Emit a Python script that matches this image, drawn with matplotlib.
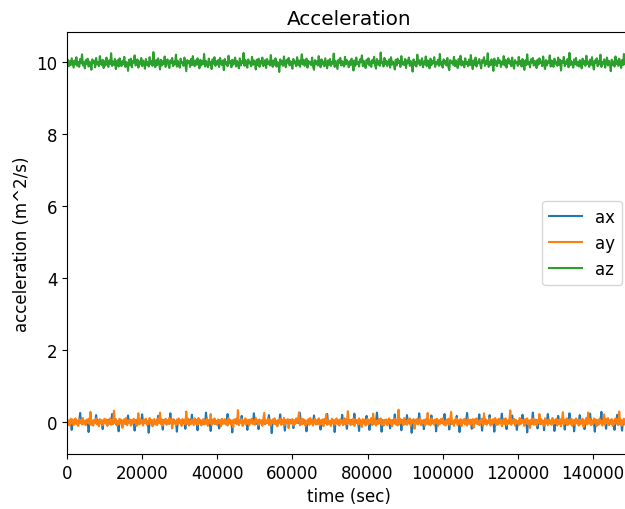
import numpy as np
import matplotlib
matplotlib.use("Agg")
import matplotlib.pyplot as plt

plt.rcParams['font.size'] = 12

# sampling step of the time axis (seconds)
time_step = 250

az = [
    9.95,10.06,9.88,10.02,9.91,10.10,9.97,9.84,10.04,9.93,10.13,9.89,10.00,9.86,10.08,9.96,10.21,9.90,9.99,9.82,
    10.05,9.94,10.09,9.87,10.01,9.92,9.78,10.07,9.98,10.03,9.85,10.11,9.93,10.00,9.88,10.16,9.95,9.91,10.06,9.83,
    10.02,9.90,10.12,9.97,9.86,10.04,9.94,10.24,9.89,10.01,9.92,10.08,9.80,9.99,10.05,9.87,10.10,9.95,9.88,10.03,
    9.93,10.14,9.86,10.00,9.96,9.75,10.06,9.91,10.09,9.85,10.02,9.98,10.18,9.90,9.95,10.07,9.84,10.01,9.93,10.11,
    9.88,10.04,9.97,9.81,10.08,9.92,10.00,9.87,10.13,9.94,10.03,9.89,10.27,9.96,9.85,10.05,9.91,10.10,9.98,9.79,
    10.06,9.90,10.02,9.94,10.15,9.86,9.99,10.07,9.92,9.83,10.04,9.97,10.11,9.88,10.01,9.93,10.20,9.87,10.03,9.95,
    9.84,10.09,9.96,10.00,9.89,10.12,9.93,9.74,10.05,9.98,10.02,9.86,10.08,9.91,10.16,9.95,9.88,10.04,9.92,10.10,
    9.97,9.82,10.06,9.90,10.01,9.94,10.22,9.87,10.03,9.96,9.85,10.09,9.92,10.00,9.80,10.07,9.95,10.13,9.89,10.02,
    9.93,10.05,9.86,10.11,9.98,9.91,10.04,9.77,10.08,9.94,10.00,9.88,10.17,9.96,10.02,9.85,10.06,9.92,9.99,10.12,
    9.87,10.03,9.95,9.82,10.10,9.90,10.01,9.97,10.25,9.89,10.05,9.93,9.84,10.07,9.96,10.00,9.88,10.14,9.92,10.04,
    9.98,9.79,10.06,9.91,10.09,9.86,10.02,9.95,10.12,9.88,9.99,10.05,9.83,10.08,9.94,10.01,9.90,10.19,9.97,9.86,
    10.04,9.92,10.10,9.87,10.00,9.96,9.72,10.07,9.93,10.03,9.89,10.15,9.95,9.85,10.06,9.98,10.11,9.90,10.02,9.94,
    9.81,10.08,9.96,10.01,9.88,10.13,9.92,10.04,9.86,9.99,10.21,9.93,10.06,9.89,9.97,10.09,9.84,10.03,9.95,10.00,
    9.91,10.12,9.87,9.78,10.05,9.94,10.02,9.90,10.16,9.97,9.85,10.07,9.93,10.01,9.88,10.10,9.96,9.82,10.04,9.92,
    10.08,9.89,10.00,9.95,10.23,9.86,10.03,9.92,9.80,10.06,9.97,10.11,9.90,10.02,9.94,9.87,10.14,9.93,10.05,9.98,
    9.85,10.02,9.91,10.09,9.96,9.76,10.04,9.89,10.12,9.94,10.00,9.87,10.07,9.99,10.18,9.88,10.03,9.92,9.83,10.06,
    9.95,10.10,9.90,10.01,9.86,10.05,9.97,10.14,9.91,9.81,10.08,9.93,10.02,9.89,10.26,9.96,10.00,9.87,10.11,9.94,
    10.03,9.88,9.98,10.07,9.84,10.13,9.92,10.01,9.95,9.79,10.06,9.90,10.09,9.97,10.03,9.86,10.16,9.93,10.00,9.91,
    10.08,9.83,10.04,9.96,10.12,9.89,10.02,9.94,9.73,10.07,9.92,10.00,9.87,10.20,9.95,10.05,9.90,9.98,10.10,9.85,
    10.01,9.93,10.15,9.88,10.04,9.97,9.82,10.09,9.91,10.02,9.96,10.13,9.86,10.00,9.94,10.06,9.89,10.22,9.92,9.99,
    9.84,10.07,9.95,10.03,9.90,10.11,9.87,9.77,10.05,9.98,10.01,9.92,10.14,9.88,10.04,9.96,9.83,10.08,9.93,10.17,
    9.90,10.02,9.97,9.85,10.10,9.94,10.00,9.88,10.06,9.91,10.19,9.95,9.80,10.04,9.92,10.12,9.87,10.01,9.96,10.08,
    9.93,9.82,10.05,9.98,10.13,9.89,10.03,9.94,10.24,9.86,10.00,9.91,10.07,9.96,9.75,10.09,9.92,10.02,9.88,10.11,
    9.97,10.04,9.86,10.01,9.93,10.16,9.90,10.06,9.84,9.99,10.10,9.95,10.03,9.88,10.12,9.92,9.81,10.05,9.97,10.00,
    9.89,10.14,9.94,10.02,9.87,10.08,9.96,9.78,10.04,9.91,10.21,9.93,10.00,9.85,10.07,9.98,10.11,9.90,10.03,9.95,
    9.83,10.06,9.92,10.10,9.97,10.01,9.88,10.15,9.94,9.80,10.05,9.90,10.02,9.96,10.18,9.87,10.04,9.93,9.86,10.09,
    9.95,10.00,9.89,10.12,9.92,10.06,9.76,10.03,9.97,10.14,9.88,10.01,9.94,10.08,9.85,10.25,9.91,10.02,9.96,9.84,
    10.07,9.93,10.11,9.90,10.00,9.87,10.05,9.98,9.82,10.09,9.94,10.03,9.89,10.17,9.95,10.01,9.86,10.06,9.92,10.13,
    9.91,9.79,10.04,9.97,10.10,9.88,10.02,9.93,10.20,9.86,10.00,9.95,10.07,9.84,9.99,10.12,9.90,10.03,9.96,9.74,
    10.06,9.92,10.01,9.87,10.15,9.94,10.04,9.89,10.09,9.97,9.83,10.05,9.91,10.22,9.93,10.00,9.88,10.11,9.95,10.02,
]

ax_vals = [
    0.02,-0.03,0.04,-0.01,0.05,-0.22,0.03,-0.04,0.01,0.06,-0.02,0.03,-0.05,0.02,0.25,-0.03,0.04,-0.01,0.02,-0.06,
    0.03,-0.02,0.05,-0.28,0.01,-0.04,0.03,0.02,-0.05,0.04,-0.01,0.19,-0.03,0.05,-0.02,0.01,-0.04,0.03,-0.20,0.02,
    -0.01,0.04,-0.03,0.02,0.06,-0.05,0.03,-0.02,0.22,-0.04,0.01,0.03,-0.06,0.02,-0.01,-0.26,0.05,-0.03,0.04,-0.02,
    0.01,0.03,-0.04,0.05,-0.02,0.18,-0.03,0.02,-0.05,0.04,-0.01,0.03,-0.24,0.02,0.05,-0.03,0.01,-0.04,0.06,-0.02,
    0.21,-0.03,0.04,-0.01,0.02,-0.05,0.03,-0.30,0.01,-0.02,0.05,-0.04,0.03,0.02,-0.01,0.04,-0.06,0.17,-0.02,0.03,
    -0.04,0.01,-0.21,0.05,-0.03,0.02,0.04,-0.01,0.03,-0.05,0.24,-0.02,0.01,-0.04,0.06,-0.03,0.02,-0.27,0.04,-0.01,
    0.03,-0.02,0.05,-0.04,0.01,0.02,-0.19,0.03,-0.05,0.04,-0.01,0.06,-0.03,0.20,-0.02,0.03,-0.04,0.01,0.05,-0.23,
    0.02,-0.03,0.04,-0.01,-0.06,0.03,0.02,-0.04,0.26,-0.02,0.05,-0.03,0.01,-0.25,0.04,-0.02,0.03,-0.05,0.02,0.01,
    -0.03,0.04,-0.18,0.02,-0.01,0.05,-0.04,0.03,0.02,-0.06,0.01,0.22,-0.03,0.04,-0.02,0.03,-0.29,0.05,-0.01,0.02,
    -0.04,0.03,0.01,-0.02,0.05,-0.03,0.17,-0.05,0.02,0.04,-0.01,0.03,-0.22,0.01,-0.04,0.06,-0.02,0.03,-0.03,0.24,
    -0.02,0.04,-0.05,0.01,-0.20,0.03,-0.03,0.02,0.05,-0.01,0.04,-0.06,0.02,-0.02,0.03,0.19,-0.04,0.01,-0.31,0.05,
    -0.03,0.02,0.04,-0.01,0.03,-0.05,0.02,0.21,-0.02,0.05,-0.04,0.01,-0.24,0.03,-0.01,0.04,-0.03,0.02,0.06,-0.02,
    0.01,-0.17,0.03,-0.04,0.05,-0.02,0.02,-0.03,0.25,-0.01,0.04,-0.05,0.03,0.01,-0.02,-0.26,0.04,-0.03,0.02,0.05,
    -0.04,0.03,-0.01,0.18,-0.02,0.04,-0.06,0.02,-0.03,0.01,-0.21,0.05,-0.02,0.03,0.04,-0.01,-0.04,0.22,-0.03,0.02,
    0.03,-0.05,0.01,-0.02,0.04,-0.28,0.03,-0.01,0.05,-0.03,0.02,0.04,-0.04,0.20,-0.02,0.01,-0.05,0.03,-0.19,0.02,
    -0.01,0.04,-0.03,0.06,-0.02,0.01,0.23,-0.04,0.03,-0.01,0.02,-0.25,0.05,-0.03,0.04,-0.02,0.01,-0.04,0.03,0.17,
    -0.02,0.05,-0.22,0.02,-0.03,0.04,-0.01,0.03,-0.05,0.01,0.26,-0.02,0.04,-0.03,0.02,-0.27,0.05,-0.01,0.03,-0.04,
    0.02,0.01,-0.03,0.04,-0.18,0.03,-0.02,0.05,-0.04,0.21,-0.01,0.02,-0.05,0.03,-0.02,0.04,-0.23,0.01,0.06,-0.03,
    0.04,-0.02,0.19,-0.04,0.01,-0.03,0.05,-0.30,0.02,-0.01,0.03,-0.05,0.04,0.02,-0.02,0.24,-0.03,0.01,-0.04,0.03,
    -0.20,0.05,-0.02,0.03,-0.01,0.04,-0.05,0.02,0.18,-0.03,0.01,-0.04,0.06,-0.26,0.03,-0.02,0.04,-0.01,0.02,-0.03,
    0.05,-0.04,0.22,-0.01,0.03,-0.02,0.04,-0.21,0.01,-0.05,0.03,0.02,-0.03,0.04,-0.01,0.17,-0.04,0.02,-0.28,0.05,
    -0.02,0.03,-0.01,0.04,-0.05,0.02,0.25,-0.03,0.01,-0.04,0.06,-0.19,0.02,-0.02,0.03,0.04,-0.01,-0.05,0.03,0.21,
    -0.03,0.02,-0.24,0.05,-0.01,0.03,-0.04,0.02,0.01,-0.02,0.19,-0.03,0.04,-0.05,0.02,-0.27,0.03,-0.01,0.05,-0.02,
    0.04,-0.03,0.01,0.23,-0.04,0.02,-0.02,0.05,-0.20,0.03,-0.01,0.04,-0.05,0.02,0.18,-0.03,0.01,-0.04,0.03,-0.22,
    0.02,-0.01,0.05,-0.03,0.04,0.20,-0.02,0.01,-0.05,0.03,-0.29,0.02,0.04,-0.01,0.03,-0.04,0.26,-0.02,0.01,-0.03,
    0.05,-0.18,0.02,-0.02,0.04,-0.04,0.01,0.03,-0.23,0.05,-0.01,0.02,0.22,-0.03,0.04,-0.05,0.01,-0.02,0.03,-0.25,
    0.02,0.04,-0.03,0.17,-0.01,0.03,-0.05,0.02,-0.02,0.04,-0.21,0.01,0.05,-0.04,0.03,0.24,-0.02,0.01,-0.03,0.02,
    -0.26,0.04,-0.01,0.03,-0.05,0.02,0.19,-0.03,0.04,-0.02,0.01,-0.20,0.05,-0.04,0.02,0.03,-0.01,0.23,-0.03,0.04,
    -0.02,0.01,-0.27,0.05,-0.03,0.02,0.04,-0.01,0.03,0.28,-0.04,0.02,-0.05,0.01,-0.19,0.03,-0.02,0.04,0.01,-0.03,
    0.05,-0.02,0.03,-0.22,0.01,-0.04,0.20,-0.03,0.02,0.04,-0.01,-0.24,0.03,-0.05,0.02,0.01,0.18,-0.02,0.04,-0.28,
]

ay = [
    0.06,-0.08,0.03,-0.10,0.09,-0.04,0.07,-0.09,0.02,0.10,-0.06,0.04,-0.11,0.08,-0.03,0.05,-0.07,0.11,-0.05,0.01,
    -0.09,0.07,-0.02,0.09,-0.06,0.28,-0.08,0.04,-0.10,0.06,-0.03,0.10,-0.07,0.02,-0.12,0.08,-0.04,0.05,-0.09,0.03,
    0.09,-0.05,0.07,-0.11,0.04,-0.02,0.10,-0.08,0.05,-0.06,0.31,-0.03,0.08,-0.10,0.03,-0.07,0.09,-0.04,0.06,-0.16,
    0.02,0.08,-0.06,0.11,-0.09,0.04,-0.03,0.07,-0.10,0.05,-0.05,0.09,-0.02,0.06,-0.11,0.03,0.24,-0.07,0.08,-0.04,
    0.05,-0.10,0.07,-0.03,0.09,-0.08,0.02,-0.06,0.11,-0.04,0.06,-0.12,0.04,0.08,-0.07,0.03,-0.09,0.10,-0.02,0.26,
    -0.06,0.07,-0.10,0.04,-0.03,0.09,-0.08,0.05,-0.05,0.11,-0.02,0.06,-0.18,0.08,-0.04,0.03,-0.09,0.07,-0.06,0.10,
    -0.03,0.05,-0.11,0.08,-0.02,0.06,-0.07,0.29,-0.04,0.09,-0.10,0.03,-0.06,0.07,0.01,-0.09,0.10,-0.05,0.04,-0.08,
    0.11,-0.03,0.06,-0.10,0.02,0.08,-0.07,0.04,-0.05,0.09,-0.11,0.05,-0.02,0.22,-0.08,0.06,-0.04,0.10,-0.06,0.03,
    -0.09,0.07,-0.03,0.05,-0.12,0.09,-0.05,0.02,0.08,-0.07,0.04,-0.10,0.11,-0.04,0.06,-0.08,0.03,-0.15,0.07,-0.02,
    0.09,-0.06,0.33,-0.09,0.05,-0.03,0.08,-0.11,0.04,-0.05,0.10,-0.07,0.02,0.06,-0.10,0.07,-0.04,0.09,-0.06,0.03,
    -0.08,0.11,-0.02,0.05,-0.09,0.07,-0.04,0.03,-0.11,0.08,0.25,-0.06,0.04,-0.03,0.09,-0.08,0.06,-0.10,0.02,0.07,
    -0.05,0.10,-0.07,0.03,-0.12,0.06,-0.02,0.09,-0.08,0.04,-0.05,0.11,-0.09,0.05,-0.03,0.08,-0.17,0.06,-0.04,0.02,
    0.08,-0.10,0.05,-0.06,0.10,-0.03,0.07,0.27,-0.09,0.04,-0.07,0.09,-0.02,0.06,-0.11,0.03,-0.05,0.08,-0.08,0.11,
    -0.04,0.06,-0.10,0.02,0.09,-0.07,0.05,-0.03,0.10,-0.09,0.04,-0.06,0.07,-0.12,0.08,-0.02,0.21,-0.08,0.05,-0.05,
    0.03,-0.11,0.09,-0.04,0.06,-0.08,0.02,0.10,-0.06,0.05,-0.10,0.07,-0.03,0.04,-0.09,0.11,-0.05,0.08,-0.07,0.30,
    -0.02,0.06,-0.09,0.04,-0.06,0.09,-0.11,0.07,-0.03,0.05,-0.08,0.10,-0.05,0.03,-0.14,0.08,-0.04,0.06,-0.10,0.02,
    0.09,-0.07,0.05,-0.02,0.11,-0.09,0.23,-0.05,0.07,-0.10,0.04,-0.06,0.08,-0.03,0.10,-0.08,0.02,-0.11,0.06,-0.04,
    0.07,-0.09,0.03,0.10,-0.05,0.06,-0.12,0.04,-0.03,0.09,-0.07,0.05,-0.10,0.34,-0.06,0.08,-0.02,0.04,-0.09,0.11,
    -0.06,0.03,-0.08,0.07,-0.04,0.10,-0.11,0.05,-0.02,0.08,-0.19,0.06,-0.05,0.09,-0.07,0.02,0.11,-0.09,0.04,-0.03,
    0.06,-0.10,0.08,-0.05,0.25,-0.07,0.03,-0.09,0.10,-0.04,0.05,-0.08,0.07,-0.02,0.09,-0.11,0.04,-0.06,0.08,-0.03,
    0.10,-0.07,0.02,-0.10,0.06,-0.04,0.09,-0.08,0.05,0.28,-0.06,0.03,-0.11,0.07,-0.02,0.10,-0.09,0.04,-0.05,0.08,
    -0.12,0.05,-0.03,0.09,-0.07,0.04,-0.10,0.11,-0.05,0.06,-0.08,0.02,0.08,-0.16,0.07,-0.04,0.10,-0.06,0.03,-0.09,
    0.06,-0.02,0.09,-0.11,0.24,-0.05,0.07,-0.08,0.04,-0.03,0.10,-0.10,0.05,-0.06,0.08,-0.02,0.11,-0.09,0.03,-0.07,
    0.09,-0.04,0.06,-0.12,0.02,0.08,-0.06,0.10,-0.09,0.04,-0.05,0.07,0.32,-0.08,0.05,-0.03,0.09,-0.10,0.06,-0.04,
    0.03,-0.09,0.11,-0.06,0.07,-0.02,0.05,-0.11,0.08,-0.04,0.10,-0.07,0.02,-0.17,0.06,-0.05,0.09,-0.08,0.04,0.07,
    -0.10,0.05,-0.03,0.22,-0.07,0.08,-0.05,0.03,-0.11,0.10,-0.04,0.06,-0.09,0.07,-0.02,0.04,-0.08,0.11,-0.06,0.05,
    -0.03,0.09,-0.10,0.06,-0.05,0.08,-0.12,0.03,0.27,-0.07,0.05,-0.04,0.10,-0.09,0.02,0.07,-0.06,0.09,-0.11,0.04,
    0.06,-0.08,0.10,-0.03,0.05,-0.10,0.07,-0.06,0.02,0.09,-0.14,0.04,-0.05,0.11,-0.07,0.26,-0.04,0.08,-0.09,0.03,
    -0.06,0.10,-0.02,0.07,-0.11,0.05,-0.08,0.09,-0.04,0.03,-0.10,0.06,0.21,-0.07,0.08,-0.03,0.11,-0.09,0.05,-0.05,
    0.08,-0.11,0.04,-0.06,0.10,-0.02,0.07,-0.09,0.29,-0.05,0.06,-0.10,0.03,0.09,-0.07,0.05,-0.04,0.11,-0.08,0.02,
]

time = np.arange(len(az)) * time_step

fig = plt.figure(figsize=(6.25, 5.10), dpi=100)
ax = fig.add_axes([67/625, 55/510, (630.5 - 67)/625, (477 - 55)/510])
ax.plot(time, ax_vals, color='#1f77b4', lw=1.5, label='ax')
ax.plot(time, ay, color='#ff7f0e', lw=1.5, label='ay')
ax.plot(time, az, color='#2ca02c', lw=1.5, label='az')
ax.set_xlim(0, 150000)
ax.set_ylim(-0.89, 10.83)
ax.set_title('Acceleration')
ax.set_xlabel('time (sec)')
ax.set_ylabel('acceleration (m^2/s)')
ax.legend(loc='center right')
fig.savefig('out.png', dpi=100)
